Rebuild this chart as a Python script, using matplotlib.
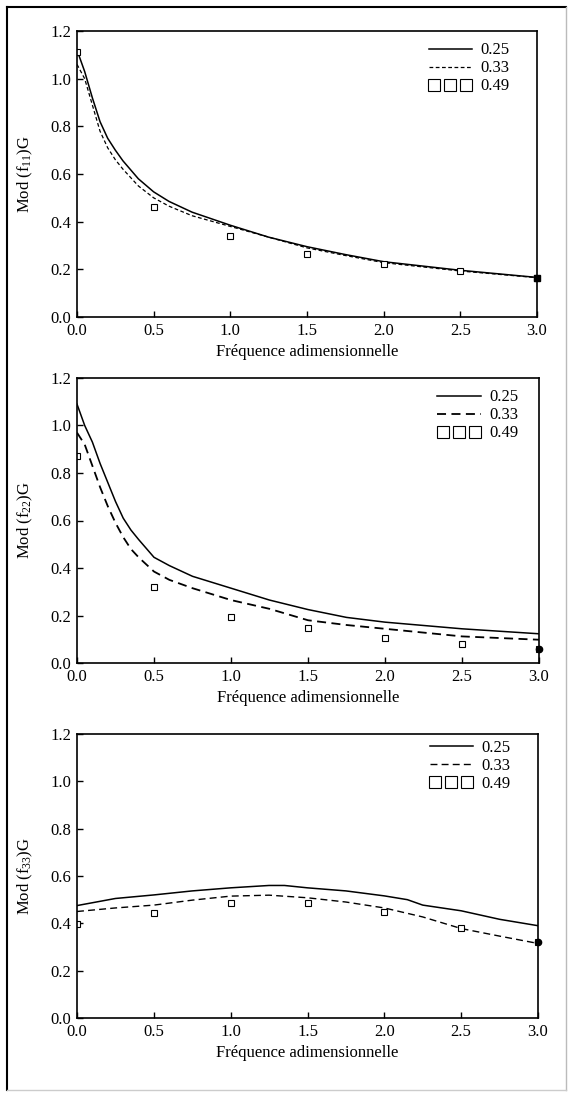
import numpy as np
import matplotlib
matplotlib.use('Agg')
import matplotlib.pyplot as plt
from matplotlib.lines import Line2D
from matplotlib.legend_handler import HandlerLine2D

plt.rcParams['font.family'] = ['Liberation Serif', 'DejaVu Serif']
plt.rcParams['mathtext.fontset'] = 'custom'
plt.rcParams['mathtext.rm'] = 'Liberation Serif'
plt.rcParams['font.size'] = 12

# legend labels (coefficient values)
labels = ['0.25', '0.33', '0.49']
xlabel = 'Fréquence adimensionnelle'
ylabels = ['Mod (f$\\mathregular{_{11}}$)G', 'Mod (f$\\mathregular{_{22}}$)G',
           'Mod (f$\\mathregular{_{33}}$)G']

# panel 1 : f11
x_line1 = [0, 0.05, 0.1, 0.15, 0.2, 0.25, 0.3, 0.4, 0.5, 0.6, 0.75, 1.0, 1.25, 1.5, 1.75, 2.0, 2.5, 3.0]
f11_025 = [1.12, 1.03, 0.92, 0.82, 0.75, 0.70, 0.655, 0.58, 0.525, 0.485, 0.44, 0.385, 0.335, 0.295, 0.262, 0.232, 0.196, 0.166]
f11_033 = [1.06, 1.0, 0.89, 0.78, 0.71, 0.66, 0.62, 0.55, 0.50, 0.465, 0.425, 0.38, 0.335, 0.29, 0.258, 0.228, 0.193, 0.165]
x_pts1 = [0, 0.5, 1.0, 1.5, 2.0, 2.5, 3.0]
f11_049 = [1.11, 0.46, 0.34, 0.265, 0.222, 0.195, 0.165]

# panel 2 : f22
x_line2 = [0, 0.05, 0.1, 0.15, 0.2, 0.25, 0.3, 0.35, 0.4, 0.5, 0.6, 0.75, 1.0, 1.25, 1.5, 1.75, 2.0, 2.5, 3.0]
f22_025 = [1.09, 1.0, 0.93, 0.84, 0.76, 0.68, 0.61, 0.56, 0.52, 0.445, 0.41, 0.365, 0.315, 0.265, 0.225, 0.192, 0.172, 0.144, 0.123]
f22_033 = [0.97, 0.92, 0.83, 0.74, 0.66, 0.59, 0.53, 0.48, 0.445, 0.385, 0.35, 0.315, 0.265, 0.228, 0.18, 0.16, 0.144, 0.112, 0.098]
x_pts2 = [0, 0.5, 1.0, 1.5, 2.0, 2.5, 3.0]
f22_049 = [0.87, 0.32, 0.195, 0.148, 0.105, 0.078, 0.06]

# panel 3 : f33
x_solid3 = [0, 0.25, 0.5, 0.75, 1.0, 1.25, 1.35, 1.5, 1.75, 2.0, 2.15, 2.25, 2.5, 2.75, 3.0]
f33_025 = [0.475, 0.505, 0.52, 0.537, 0.55, 0.56, 0.56, 0.55, 0.537, 0.516, 0.50, 0.477, 0.453, 0.417, 0.39]
x_dash3 = [0, 0.25, 0.5, 0.75, 1.0, 1.25, 1.5, 1.75, 2.0, 2.25, 2.5, 2.75, 3.0]
f33_033 = [0.45, 0.465, 0.477, 0.498, 0.515, 0.519, 0.508, 0.49, 0.465, 0.427, 0.378, 0.346, 0.315]
x_pts3 = [0, 0.5, 1.0, 1.5, 2.0, 2.5, 3.0]
f33_049 = [0.396, 0.444, 0.484, 0.484, 0.449, 0.382, 0.32]

panels = [
    (x_line1, f11_025, x_line1, f11_033, x_pts1, f11_049, 's'),
    (x_line2, f22_025, x_line2, f22_033, x_pts2, f22_049, 'o'),
    (x_solid3, f33_025, x_dash3, f33_033, x_pts3, f33_049, 'o'),
]


# squares packed tight across the handle, like "□□□"
class SquareRow(HandlerLine2D):
    def get_xdata(self, legend, xdescent, ydescent, width, height, fontsize):
        pad = 0.33 * fontsize
        xm = np.linspace(-xdescent + pad, width - xdescent - pad, 3)
        return xm, xm


W, H = 568, 1095
fig = plt.figure(figsize=(W / 100, H / 100), dpi=100)

# axes boxes in pixels: left, top, right, bottom
boxes = [(77, 31, 537, 317), (77, 378, 539, 663), (77, 734, 538, 1018)]
leg_anchor = [(0.94, 0.96), (0.955, 0.96), (0.94, 0.98)]
dash_style = [(3, 2), (5, 3), (5, 3)]
dash_lw = [0.9, 1.3, 1.0]

for i, (xs, ys, xd, yd, xp, yp, endm) in enumerate(panels):
    l, t, r, b = boxes[i]
    ax = fig.add_axes([l / W, 1 - b / H, (r - l) / W, (b - t) / H])
    ax.plot(xs, ys, '-', color='k', lw=1.1, label=labels[0])
    ax.plot(xd, yd, '--', color='k', lw=dash_lw[i], dashes=dash_style[i], label=labels[1])
    sq, = ax.plot(xp, yp, 's', ms=4, mfc='white', mec='k', mew=0.8, ls='none', label=labels[2])
    # last point drawn filled, as in the original
    ax.plot(xp[-1:], yp[-1:], endm, ms=4.5, color='k', clip_on=False)

    ax.set_xlim(0, 3.0)
    ax.set_ylim(0, 1.2)
    ax.set_xticks([0.0, 0.5, 1.0, 1.5, 2.0, 2.5, 3.0])
    ax.set_xticklabels(['0.0', '0.5', '1.0', '1.5', '2.0', '2.5', '3.0'])
    ax.set_yticks([0.0, 0.2, 0.4, 0.6, 0.8, 1.0, 1.2])
    ax.set_yticklabels(['0.0', '0.2', '0.4', '0.6', '0.8', '1.0', '1.2'])
    ax.tick_params(direction='in', length=4, width=1, top=False, right=False,
                   pad=4, labelsize=12)
    for s in ax.spines.values():
        s.set_linewidth(1.2)
    ax.set_xlabel(xlabel, fontsize=12, labelpad=4)
    ax.set_ylabel(ylabels[i], fontsize=12, labelpad=11)
    ax.legend(loc='upper right', bbox_to_anchor=leg_anchor[i], frameon=False,
              markerscale=2.3, handlelength=2.6, handletextpad=0.5,
              labelspacing=0.12, borderpad=0, borderaxespad=0, fontsize=12,
              handler_map={sq: SquareRow(numpoints=3)})

# outer frame of the scanned figure
fig.add_artist(Line2D([7 / W, 7 / W], [1 - 7 / H, 1 - 1090 / H], color='k', lw=1.5))
fig.add_artist(Line2D([7 / W, 566 / W], [1 - 7 / H, 1 - 7 / H], color='k', lw=1.5))
fig.add_artist(Line2D([566 / W, 566 / W], [1 - 7 / H, 1 - 1090 / H], color='#bbbbbb', lw=1))
fig.add_artist(Line2D([7 / W, 566 / W], [1 - 1090 / H, 1 - 1090 / H], color='#cccccc', lw=1))

plt.savefig('out.png', dpi=100)
